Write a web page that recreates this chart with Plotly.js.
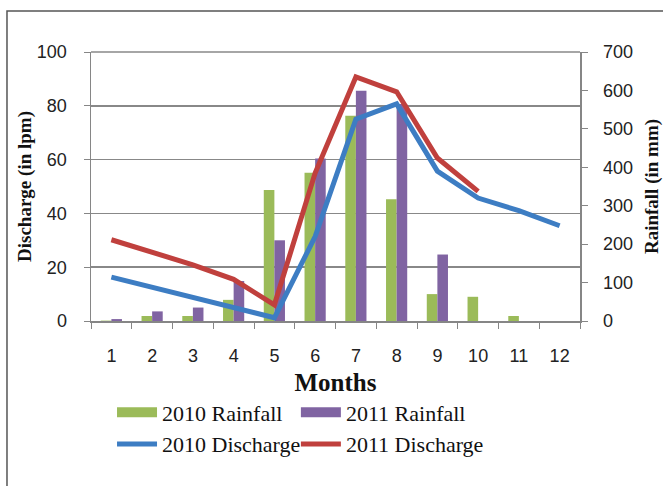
<!DOCTYPE html>
<html><head><meta charset="utf-8">
<script src="https://cdn.plot.ly/plotly-3.0.1.min.js"></script>
<style>html,body{margin:0;padding:0;background:#fff}</style>
</head><body><div id="chart" style="width:663px;height:486px"></div>
<script>
const months = ["1","2","3","4","5","6","7","8","9","10","11","12"];
const rain2010 = [1, 13, 13, 55, 341, 386, 534, 317, 70, 63, 13, 0];
const rain2011 = [5, 25, 35, 104, 210, 423, 599, 565, 173, null, null, null];
const dis2010 = [16.3, 12.6, 9.0, 5.3, 1.2, 31.4, 75, 80.7, 55.7, 45.7, 41, 35.4];
const dis2011 = [30.2, 25.6, 20.9, 15.5, 6, 55, 90.7, 85.2, 60.6, 48.2, null, null];

const serif = "Liberation Serif, Times New Roman, serif";
const sans = "Liberation Sans, Arial, sans-serif";
const cG = "#9BBB59", cP = "#8064A2", cB = "#3D7DC3", cR = "#C0403D";

const traces = [
  {type:"bar", name:"2010 Rainfall", x:months, y:rain2010, yaxis:"y", marker:{color:cG}, showlegend:false},
  {type:"bar", name:"2011 Rainfall", x:months, y:rain2011, yaxis:"y", marker:{color:cP}, showlegend:false},
  {type:"scatter", mode:"lines", name:"2010 Discharge", x:months, y:dis2010, yaxis:"y2", line:{color:cB, width:5}, showlegend:false},
  {type:"scatter", mode:"lines", name:"2011 Discharge", x:months, y:dis2011, yaxis:"y2", line:{color:cR, width:5}, showlegend:false},
  // legend entries
  {type:"scatter", mode:"lines", name:"2010 Rainfall", x:[null], y:[null], yaxis:"y2", line:{color:cG, width:14}, legend:"legend"},
  {type:"scatter", mode:"lines", name:"2010 Discharge", x:[null], y:[null], yaxis:"y2", line:{color:cB, width:5}, legend:"legend"},
  {type:"scatter", mode:"lines", name:"2011 Rainfall", x:[null], y:[null], yaxis:"y2", line:{color:cP, width:14}, legend:"legend2"},
  {type:"scatter", mode:"lines", name:"2011 Discharge", x:[null], y:[null], yaxis:"y2", line:{color:cR, width:5}, legend:"legend2"}
];

const legendBase = {orientation:"v", yanchor:"top", y:-0.262, xanchor:"left",
  font:{family:serif, size:22, color:"#111"}, itemwidth:40, traceorder:"normal", bgcolor:"rgba(0,0,0,0)"};

const layout = {
  width:663, height:486,
  margin:{l:91, r:83, t:52, b:165},
  paper_bgcolor:"#fff", plot_bgcolor:"#fff",
  barmode:"group", bargap:0.48, bargroupgap:0,
  showlegend:true,
  xaxis:{type:"category", tickson:"boundaries", ticks:"outside", ticklen:6, tickcolor:"#868686",
    showline:true, linecolor:"#868686", linewidth:1.5, showgrid:false,
    tickfont:{family:sans, size:18, color:"#222"}, ticklabelstandoff:18,
    title:{text:"Months", font:{family:serif, size:25, color:"#111", weight:"bold"}, standoff:8}},
  yaxis:{side:"right", range:[0,700], dtick:100, ticks:"outside", ticklen:6, tickcolor:"#868686",
    showline:true, linecolor:"#868686", linewidth:1.5, showgrid:false, zeroline:false,
    tickfont:{family:sans, size:18, color:"#222"}, ticklabelstandoff:12,
    title:{text:"Rainfall (in mm)", font:{family:serif, size:19, color:"#111", weight:"bold"}, standoff:14}},
  yaxis2:{overlaying:"y", side:"left", range:[0,100], dtick:20, ticks:"outside", ticklen:6, tickcolor:"#868686",
    showline:true, linecolor:"#868686", linewidth:1.5, showgrid:true, gridcolor:"#888", gridwidth:1.5, zeroline:false,
    tickfont:{family:sans, size:18, color:"#222"}, ticklabelstandoff:13,
    title:{text:"Discharge (in lpm)", font:{family:serif, size:19, color:"#111", weight:"bold"}, standoff:0}},
  legend:Object.assign({}, legendBase, {x:0.043}),
  legend2:Object.assign({}, legendBase, {x:0.419}),
  shapes:[
    {type:"rect", xref:"paper", yref:"paper", x0:-0.1718, x1:1.3, y0:-0.8, y1:1.1524,
      line:{color:"#555", width:1.5}, layer:"below"},
    {type:"line", xref:"paper", yref:"paper", x0:0, x1:1, y0:1, y1:1,
      line:{color:"#888", width:1.5}, layer:"below"}
  ]
};
Plotly.newPlot("chart", traces, layout, {displayModeBar:false, staticPlot:true});
</script></body></html>
